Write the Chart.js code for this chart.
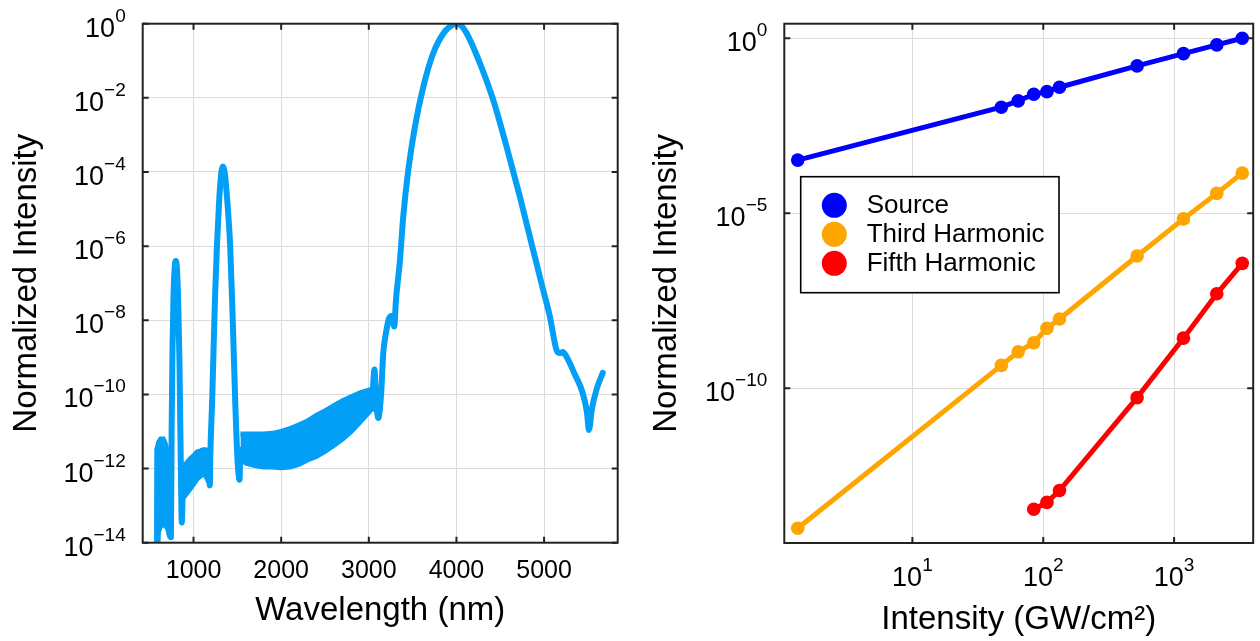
<!DOCTYPE html>
<html>
<head>
<meta charset="utf-8">
<title>Spectrum and harmonic scaling</title>
<script src="https://cdn.jsdelivr.net/npm/chart.js@4.4.1/dist/chart.umd.min.js"></script>
<style>
  html, body { margin: 0; padding: 0; background: #fff; }
  #wrap { position: relative; width: 1260px; height: 641px; }
  canvas { position: absolute; top: 0; }
  #spectrum { left: 0; }
  #scaling { left: 630px; }
</style>
</head>
<body>
<div id="wrap">
  <canvas id="spectrum" width="630" height="641"></canvas>
  <canvas id="scaling" width="630" height="641"></canvas>
</div>
<script>
'use strict';

// ---- Left panel: output spectrum (wavelength in nm, normalized intensity) ----
const spectrumWavelength = [583, 587, 742, 750, 760, 772, 786, 799, 812, 826, 840, 850, 860, 866, 878,
  1178, 1186, 1192, 1213, 1244, 1267, 1293, 1318, 1335, 1355, 1384, 1418, 1445, 1475, 1502, 1525, 1535,
  2000, 2500, 2900, 3040, 3065, 3080, 3108, 3140, 3165, 3196, 3230, 3260, 3290, 3310, 3356, 3393, 3450,
  3527, 3622, 3735, 3868, 3950, 4000, 4050, 4115, 4267, 4419, 4571, 4723, 4875, 4989, 5065, 5141, 5179,
  5215, 5250, 5350, 5440, 5490, 5512, 5545, 5600, 5670];
const spectrumIntensity = [1.6e-15, 3.5e-12, 1.4e-14, 1.0e-11, 1.6e-9, 5.0e-8, 2.8e-7, 4.0e-7, 2.2e-7, 2.5e-8,
  6.3e-10, 1.0e-11, 1.6e-13, 3.5e-14, 2.5e-13,
  1.3e-12, 3.5e-13, 2.5e-12, 7.2e-11, 3.5e-8, 1.0e-6, 1.8e-5, 1.0e-4, 1.4e-4, 1.0e-4, 1.8e-5, 1.0e-6, 1.6e-8,
  7.2e-11, 1.7e-12, 5.0e-13, 3.2e-12,
  3.2e-12, 7.9e-12, 4.0e-11, 1.0e-10, 4.7e-10, 1.0e-10, 2.3e-11, 1.0e-10, 1.3e-9, 4.6e-9, 1.1e-8, 1.3e-8,
  6.8e-9, 3.5e-8, 4.3e-7, 6.3e-6, 1.1e-4,
  1.7e-3, 2.0e-2, 0.16, 0.62, 0.91, 1.0, 0.91, 0.56, 8.7e-2, 8.9e-3, 4.9e-4, 2.2e-5, 7.9e-7, 6.6e-8, 1.3e-8,
  1.6e-9, 1.3e-9, 1.4e-9, 1.1e-9, 3.5e-10, 1.1e-10, 3.2e-11, 1.1e-11, 4.0e-11, 1.4e-10, 3.8e-10];

// dense oscillating parts of the spectrum, given as upper / lower envelopes
const band1Wavelength = [583, 600, 625, 655, 680, 705, 725, 745];
const band1Upper = [3.2e-12, 5.0e-12, 6.3e-12, 6.3e-12, 4.5e-12, 2.5e-12, 1.3e-12, 6.3e-13];
const band1Lower = [3.2e-15, 2.0e-14, 2.8e-14, 3.2e-14, 2.8e-14, 2.5e-14, 2.0e-14, 1.6e-14];

const band2Wavelength = [880, 920, 960, 1000, 1040, 1080, 1110, 1140, 1170, 1185];
const band2Upper = [1.1e-12, 1.4e-12, 1.8e-12, 2.2e-12, 2.8e-12, 3.0e-12, 3.2e-12, 3.2e-12, 2.8e-12, 2.5e-12];
const band2Lower = [1.6e-13, 2.1e-13, 2.8e-13, 3.8e-13, 5.2e-13, 6.3e-13, 7.1e-13, 6.3e-13, 4.5e-13, 4.0e-13];

const band3Wavelength = [1535, 1600, 1700, 1800, 1900, 2000, 2100, 2200, 2300, 2400, 2500, 2600, 2700,
  2800, 2900, 3000, 3050, 3100];
const band3Upper = [8.5e-12, 8.5e-12, 8.5e-12, 8.5e-12, 8.9e-12, 1.0e-11, 1.2e-11, 1.5e-11, 1.9e-11, 2.7e-11,
  3.6e-11, 5.0e-11, 6.8e-11, 8.7e-11, 1.1e-10, 1.3e-10, 1.4e-10, 1.3e-10];
const band3Lower = [1.7e-12, 1.4e-12, 1.2e-12, 1.1e-12, 1.1e-12, 1.05e-12, 1.1e-12, 1.3e-12, 1.7e-12, 2.1e-12,
  2.9e-12, 4.2e-12, 6.3e-12, 1.0e-11, 1.8e-11, 3.3e-11, 4.5e-11, 3.2e-11];

const spectrumXTicks = [1000, 2000, 3000, 4000, 5000];
const spectrumYTicks = [1, 1e-2, 1e-4, 1e-6, 1e-8, 1e-10, 1e-12, 1e-14];

// ---- Right panel: signal vs pump intensity (GW/cm^2) ----
const pumpIntensity = [1.33, 47.8, 64.3, 84.6, 106.7, 133, 521, 1178, 2117, 3315];
const sourceSignal = [3.3e-4, 1.07e-2, 1.62e-2, 2.5e-2, 2.98e-2, 3.98e-2, 0.162, 0.363, 0.644, 1.0];
const thirdHarmonic = [1.0e-14, 4.5e-10, 1.1e-9, 2.0e-9, 5.2e-9, 9.5e-9, 6.0e-7, 6.9e-6, 3.7e-5, 1.4e-4];
const fifthHarmonic = [null, null, null, 3.5e-14, 5.5e-14, 1.2e-13, 5.4e-11, 2.7e-9, 5.0e-8, 3.7e-7];
const seriesLabels = ['Source', 'Third Harmonic', 'Fifth Harmonic'];

const scalingXTicks = [10, 100, 1000];
const scalingYTicks = [1, 1e-5, 1e-10];

// ---- styling ----
const FONT = '"Liberation Sans", Arial, Helvetica, sans-serif';
const GRID = '#dcdcdc';
const SPEC_BLUE = '#039ef5';
const SERIES_COLORS = ['#0000ff', '#ffa500', '#ff0000'];

function toPoints(xs, ys) {
  return xs.map((x, i) => ({ x, y: ys[i] }));
}

/**
 * Draw a "10^n" label, base text on baseY
 */
function drawPower(ctx, exp, x, baseY, align) {
  const sup = exp < 0 ? '\u2212' + (-exp) : String(exp);
  ctx.font = '27px ' + FONT;
  const w1 = ctx.measureText('10').width;
  ctx.font = '19px ' + FONT;
  const w2 = ctx.measureText(sup).width;
  const total = w1 + w2;
  const start = align === 'right' ? x - total : x - total / 2;
  ctx.textAlign = 'left';
  ctx.textBaseline = 'alphabetic';
  ctx.font = '27px ' + FONT;
  ctx.fillText('10', start, baseY);
  ctx.font = '19px ' + FONT;
  ctx.fillText(sup, start + w1, baseY - 15);
}

// frame, inward ticks on all four sides, power-of-ten labels, boxed legend
const axisDecor = {
  id: 'axisDecor',
  afterDatasetsDraw(chart, args, opts) {
    const { ctx, chartArea: a, scales: { x, y } } = chart;
    ctx.save();
    ctx.strokeStyle = '#222';
    ctx.lineWidth = 2;
    ctx.strokeRect(a.left, a.top, a.right - a.left, a.bottom - a.top);

    ctx.beginPath();
    x.ticks.forEach((t) => {
      const px = x.getPixelForValue(t.value);
      ctx.moveTo(px, a.bottom); ctx.lineTo(px, a.bottom - 6);
      ctx.moveTo(px, a.top); ctx.lineTo(px, a.top + 6);
    });
    y.ticks.forEach((t) => {
      const py = y.getPixelForValue(t.value);
      ctx.moveTo(a.left, py); ctx.lineTo(a.left + 6, py);
      ctx.moveTo(a.right, py); ctx.lineTo(a.right - 6, py);
    });
    ctx.stroke();

    ctx.fillStyle = '#000';
    x.ticks.forEach((t) => {
      const px = x.getPixelForValue(t.value);
      if (opts.xLog) {
        drawPower(ctx, Math.round(Math.log10(t.value)), px, a.bottom + 43, 'center');
      } else {
        ctx.font = '25px ' + FONT;
        ctx.textAlign = 'center';
        ctx.textBaseline = 'alphabetic';
        ctx.fillText(String(t.value), px, a.bottom + 35);
      }
    });
    y.ticks.forEach((t) => {
      const py = y.getPixelForValue(t.value);
      drawPower(ctx, Math.round(Math.log10(t.value)), a.left - 17, py + 13, 'right');
    });

    if (opts.legend) {
      const L = opts.legend;
      ctx.fillStyle = '#fff';
      ctx.fillRect(L.left, L.top, L.width, L.height);
      ctx.strokeStyle = '#000';
      ctx.lineWidth = 1.6;
      ctx.strokeRect(L.left, L.top, L.width, L.height);
      ctx.font = '26px ' + FONT;
      ctx.textAlign = 'left';
      ctx.textBaseline = 'middle';
      chart.data.datasets.forEach((ds, i) => {
        const cy = L.top + L.firstRow + i * L.rowGap;
        ctx.fillStyle = ds.borderColor;
        ctx.beginPath();
        ctx.arc(L.left + L.markerX, cy, 12.5, 0, Math.PI * 2);
        ctx.fill();
        ctx.fillStyle = '#000';
        ctx.fillText(ds.label, L.left + L.textX, cy + 1);
      });
    }
    ctx.restore();
  },
};

function axisTitle(text, padding) {
  return { display: true, text, color: '#000', font: { family: FONT, size: 33 }, padding };
}

function setTicks(values) {
  return (scale) => { scale.ticks = values.map((v) => ({ value: v })); };
}

// ---- left chart ----
function bandPair(wl, upper, lower) {
  const common = { borderColor: SPEC_BLUE, backgroundColor: SPEC_BLUE, borderWidth: 5, pointRadius: 0, tension: 0 };
  return [
    Object.assign({ data: toPoints(wl, upper), fill: false }, common),
    Object.assign({ data: toPoints(wl, lower), fill: '-1' }, common),
  ];
}

new Chart(document.getElementById('spectrum'), {
  type: 'line',
  data: {
    datasets: [
      ...bandPair(band1Wavelength, band1Upper, band1Lower),
      ...bandPair(band2Wavelength, band2Upper, band2Lower),
      ...bandPair(band3Wavelength, band3Upper, band3Lower),
      {
        data: toPoints(spectrumWavelength, spectrumIntensity),
        borderColor: SPEC_BLUE,
        borderWidth: 6,
        pointRadius: 0,
        fill: false,
        cubicInterpolationMode: 'monotone',
        borderJoinStyle: 'round',
        borderCapStyle: 'round',
      },
    ],
  },
  options: {
    responsive: false,
    animation: false,
    layout: { padding: { top: 23.7, right: 12.3, bottom: 0, left: 0 } },
    plugins: { legend: { display: false }, tooltip: { enabled: false }, axisDecor: { xLog: false } },
    scales: {
      x: {
        type: 'linear', min: 420, max: 5840, offset: false,
        afterBuildTicks: setTicks(spectrumXTicks),
        afterFit: (s) => { s.height = 98.3; },
        ticks: { display: false },
        grid: { color: GRID, drawTicks: false },
        border: { display: false },
        title: axisTitle('Wavelength (nm)', { top: 0, bottom: 10.6 }),
      },
      y: {
        type: 'logarithmic', min: 1e-14, max: 1,
        afterBuildTicks: setTicks(spectrumYTicks),
        afterFit: (s) => { s.width = 142.7; },
        ticks: { display: false },
        grid: { color: GRID, drawTicks: false },
        border: { display: false },
        title: axisTitle('Normalized Intensity', { top: 7, bottom: 0 }),
      },
    },
  },
  plugins: [axisDecor],
});

// ---- right chart ----
const scalingSeries = [sourceSignal, thirdHarmonic, fifthHarmonic];

new Chart(document.getElementById('scaling'), {
  type: 'line',
  data: {
    datasets: scalingSeries.map((vals, i) => ({
      label: seriesLabels[i],
      data: toPoints(pumpIntensity, vals),
      borderColor: SERIES_COLORS[i],
      backgroundColor: SERIES_COLORS[i],
      pointBackgroundColor: SERIES_COLORS[i],
      borderWidth: 5,
      pointRadius: 6.8,
      pointBorderWidth: 0,
      fill: false,
      tension: 0,
    })),
  },
  options: {
    responsive: false,
    animation: false,
    layout: { padding: { top: 23.7, right: 3.3, bottom: 0, left: 0 } },
    plugins: {
      legend: { display: false },
      tooltip: { enabled: false },
      axisDecor: {
        xLog: true,
        legend: { left: 170.7, top: 176.7, width: 258.3, height: 116, markerX: 33.6, textX: 66, firstRow: 28.6, rowGap: 29 },
      },
    },
    scales: {
      x: {
        type: 'logarithmic', min: 1.05, max: 4020, offset: false,
        afterBuildTicks: setTicks(scalingXTicks),
        afterFit: (s) => { s.height = 98; },
        ticks: { display: false },
        grid: { color: GRID, drawTicks: false },
        border: { display: false },
        title: axisTitle('Intensity (GW/cm\u00b2)', { top: 0, bottom: 1.6 }),
      },
      y: {
        type: 'logarithmic', min: 3.8e-15, max: 2.6,
        afterBuildTicks: setTicks(scalingYTicks),
        afterFit: (s) => { s.width = 154.3; },
        ticks: { display: false },
        grid: { color: GRID, drawTicks: false },
        border: { display: false },
        title: axisTitle('Normalized Intensity', { top: 17, bottom: 0 }),
      },
    },
  },
  plugins: [axisDecor],
});
</script>
</body>
</html>
